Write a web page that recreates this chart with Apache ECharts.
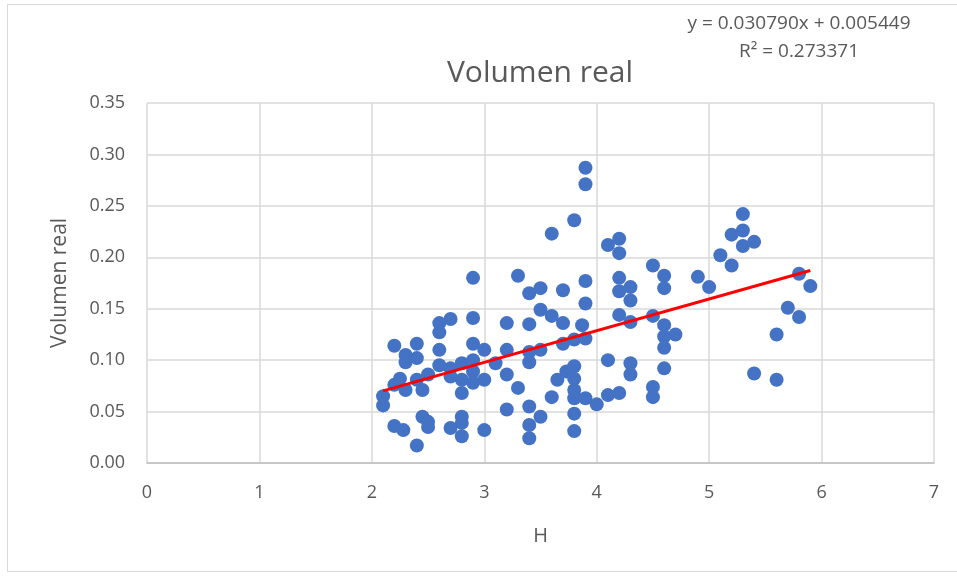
<!DOCTYPE html>
<html><head><meta charset="utf-8">
<script src="https://cdn.jsdelivr.net/npm/echarts@6/dist/echarts.min.js"></script>
<style>html,body{margin:0;padding:0;background:#fff}#c{width:957px;height:578px}</style>
</head><body><div id="c"></div>
<script>
const xValues = [2.1,2.1,2.2,2.25,2.2,2.2,2.3,2.3,2.3,2.28,2.4,2.4,2.4,2.4,2.45,2.45,2.5,2.5,2.5,
2.6,2.6,2.6,2.6,2.7,2.7,2.7,2.7,2.8,2.8,2.8,2.8,2.8,2.8,2.9,2.9,2.9,2.9,2.9,2.9,
3.0,3.0,3.0,3.1,3.2,3.2,3.2,3.2,3.3,3.3,3.4,3.4,3.4,3.4,3.4,3.4,3.4,
3.5,3.5,3.5,3.5,3.6,3.6,3.6,3.65,3.7,3.7,3.7,3.73,3.8,3.8,3.8,3.8,3.8,3.8,3.8,3.8,
3.87,3.9,3.9,3.9,3.9,3.9,3.9,4.0,4.1,4.1,4.1,4.2,4.2,4.2,4.2,4.2,4.2,
4.3,4.3,4.3,4.3,4.3,4.5,4.5,4.5,4.5,4.6,4.6,4.6,4.6,4.6,4.6,4.7,4.9,5.0,
5.1,5.2,5.2,5.3,5.3,5.3,5.4,5.4,5.6,5.6,5.7,5.8,5.8,5.9];
const yValues = [0.065,0.056,0.076,0.082,0.114,0.036,0.105,0.098,0.071,0.032,0.116,0.102,0.081,0.017,0.071,0.045,0.086,0.040,0.035,
0.136,0.127,0.110,0.095,0.140,0.092,0.084,0.034,0.097,0.081,0.068,0.045,0.039,0.026,0.180,0.141,0.116,0.100,0.089,0.078,
0.110,0.081,0.032,0.097,0.136,0.110,0.086,0.052,0.182,0.073,0.165,0.135,0.108,0.098,0.055,0.037,0.024,
0.170,0.149,0.110,0.045,0.223,0.143,0.064,0.081,0.168,0.136,0.116,0.089,0.236,0.120,0.094,0.082,0.071,0.063,0.048,0.031,
0.134,0.287,0.271,0.177,0.155,0.121,0.063,0.057,0.212,0.100,0.066,0.218,0.204,0.180,0.167,0.144,0.068,
0.171,0.158,0.137,0.097,0.086,0.192,0.143,0.074,0.064,0.182,0.170,0.134,0.123,0.112,0.092,0.125,0.181,0.171,
0.202,0.222,0.192,0.242,0.226,0.211,0.215,0.087,0.125,0.081,0.151,0.184,0.142,0.172];
const trendSlope = 0.030790;
const trendIntercept = 0.005449;
const trendR2 = 0.273371;

const scatterData = xValues.map((x,i)=>[x,yValues[i]]);
const xMin = Math.min(...xValues), xMax = Math.max(...xValues);
const trendData = [[xMin, trendSlope*xMin+trendIntercept],[xMax, trendSlope*xMax+trendIntercept]];

const FONT = 'Open Sans';
const chart = echarts.init(document.getElementById('c'), null, {renderer:'canvas'});
chart.setOption({
  animation:false,
  backgroundColor:'#fff',
  textStyle:{fontFamily:FONT},
  title:{text:'Volumen real', left:535, top:53, textAlign:'center',
    textStyle:{fontSize:30, fontWeight:'normal', color:'#595959', fontFamily:FONT}},
  graphic:[
    {type:'rect', shape:{x:7.5,y:4.5,width:1000,height:567}, style:{fill:'none', stroke:'#d9d9d9', lineWidth:1}},
    {type:'text', x:799, y:14, style:{text:'y = 0.030790x + 0.005449', fill:'#595959', font:'19px "Open Sans"', textAlign:'center'}},
    {type:'text', x:799, y:42, style:{text:'R² = '+trendR2.toFixed(6), fill:'#595959', font:'19px "Open Sans"', textAlign:'center'}}
  ],
  grid:{left:147, right:23, top:103, bottom:115},
  xAxis:{type:'value', min:0, max:7, interval:1, name:'H', nameLocation:'middle', nameGap:63,
    nameTextStyle:{fontSize:20, color:'#595959'},
    axisLine:{lineStyle:{color:'#bfbfbf', width:1.5}}, axisTick:{show:false},
    axisLabel:{fontSize:18, color:'#595959', margin:21},
    splitLine:{show:true, lineStyle:{color:'#d9d9d9', width:1.5}}},
  yAxis:{type:'value', min:0, max:0.35, interval:0.05, name:'Volumen real', nameLocation:'middle', nameGap:76,
    nameTextStyle:{fontSize:21, color:'#595959'},
    axisLine:{show:false}, axisTick:{show:false},
    axisLabel:{fontSize:18, color:'#595959', margin:22, formatter:v=>v.toFixed(2)},
    splitLine:{show:true, lineStyle:{color:'#d9d9d9', width:1.5}}},
  series:[
    {type:'scatter', data:scatterData, symbolSize:14, itemStyle:{color:'#4472C4', opacity:1}, z:2},
    {type:'line', data:trendData, symbol:'none', lineStyle:{color:'#FF0000', width:3}, z:3}
  ]
});
</script></body></html>
